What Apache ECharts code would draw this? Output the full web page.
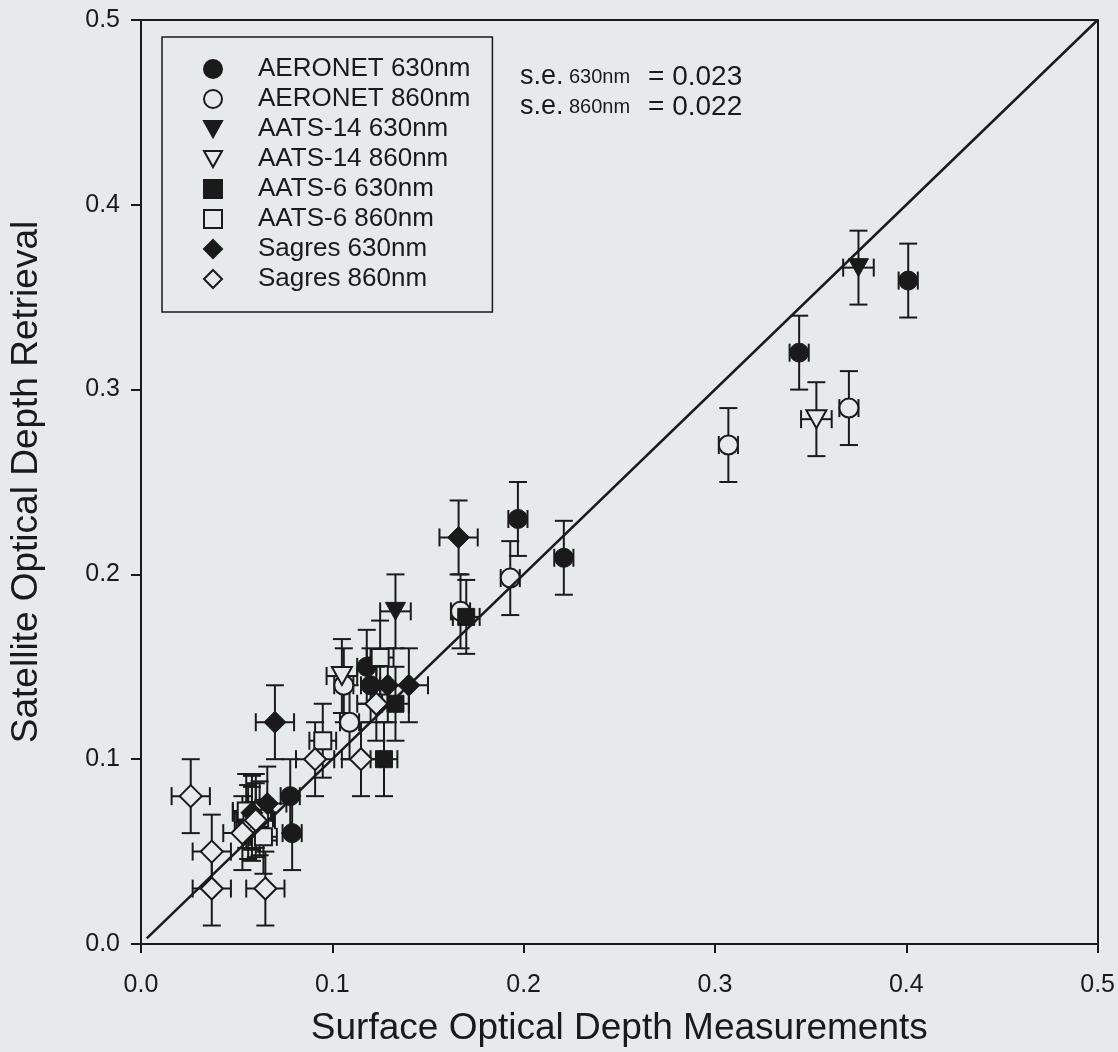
<!DOCTYPE html>
<html><head><meta charset="utf-8">
<script src="https://cdn.jsdelivr.net/npm/echarts@6/dist/echarts.min.js"></script>
<style>html,body{margin:0;padding:0;background:#e6eaeb}#c{width:1118px;height:1052px}</style>
</head><body><div id="c"></div>
<script>
// ---- data ----
const xTicks = [0.0, 0.1, 0.2, 0.3, 0.4, 0.5];
const yTicks = [0.0, 0.1, 0.2, 0.3, 0.4, 0.5];
const lineX = [0.003, 0.5];
const lineY = [0.003, 0.5];

const aeronet630X = [0.401, 0.344, 0.221, 0.197, 0.118, 0.120, 0.078, 0.079];
const aeronet630Y = [0.359, 0.320, 0.209, 0.230, 0.150, 0.140, 0.080, 0.060];
const aeronet860X = [0.370, 0.307, 0.193, 0.167, 0.106, 0.109];
const aeronet860Y = [0.290, 0.270, 0.198, 0.180, 0.140, 0.120];
const aats14_630X = [0.375, 0.133];
const aats14_630Y = [0.366, 0.180];
const aats14_860X = [0.353, 0.105, 0.060];
const aats14_860Y = [0.284, 0.145, 0.072];
const aats6_630X = [0.170, 0.133, 0.127, 0.056];
const aats6_630Y = [0.177, 0.130, 0.100, 0.066];
const aats6_860X = [0.095, 0.125, 0.055, 0.058, 0.062, 0.064];
const aats6_860Y = [0.110, 0.155, 0.072, 0.065, 0.068, 0.058];
const sagres630X = [0.166, 0.070, 0.129, 0.140, 0.066, 0.058];
const sagres630Y = [0.220, 0.120, 0.140, 0.140, 0.076, 0.071];
const sagres860X = [0.026, 0.037, 0.037, 0.065, 0.053, 0.060, 0.091, 0.115, 0.123];
const sagres860Y = [0.080, 0.050, 0.030, 0.030, 0.060, 0.067, 0.100, 0.100, 0.130];

// error half-widths
const errY = 0.02;
const errXAeronet = 0.005;
const errXAats14 = 0.008;
const errXAats6 = 0.007;
const errXSagres = 0.010;

// ---- styling ----
const INK = '#1a1a1a';
const BG = '#e6eaeb';
const FONT = '"Liberation Sans", Arial, Helvetica, sans-serif';
const DOWN_TRI = 'path://M0,0 L20,0 L10,18 Z';

function errSeries(xs, ys, ex, ey) {
  return {
    type: 'custom', silent: true, z: 2,
    data: xs.map((x, i) => [x, ys[i], ex, ey]),
    encode: { x: 0, y: 1 },
    renderItem: function (params, api) {
      const x = api.value(0), y = api.value(1), dx = api.value(2), dy = api.value(3);
      const t = api.coord([x, y + dy]), b = api.coord([x, y - dy]);
      const l = api.coord([x - dx, y]), r = api.coord([x + dx, y]);
      const cap = 9;
      const st = { stroke: INK, lineWidth: 2 };
      const seg = (x1, y1, x2, y2) => ({ type: 'line', shape: { x1, y1, x2, y2 }, style: st });
      return {
        type: 'group',
        children: [
          seg(t[0], t[1], b[0], b[1]),
          seg(t[0] - cap, t[1], t[0] + cap, t[1]),
          seg(b[0] - cap, b[1], b[0] + cap, b[1]),
          seg(l[0], l[1], r[0], r[1]),
          seg(l[0], l[1] - cap, l[0], l[1] + cap),
          seg(r[0], r[1] - cap, r[0], r[1] + cap)
        ]
      };
    }
  };
}

function pts(xs, ys) { return xs.map((x, i) => [x, ys[i]]); }

function scat(name, xs, ys, symbol, size, filled) {
  return {
    name, type: 'scatter', z: 4,
    symbol, symbolSize: size, symbolKeepAspect: true,
    data: pts(xs, ys),
    itemStyle: filled
      ? { color: INK, borderColor: INK, borderWidth: 1, opacity: 1 }
      : { color: BG, borderColor: INK, borderWidth: 2, opacity: 1 },
    emphasis: { disabled: true }
  };
}

const chart = echarts.init(document.getElementById('c'), null, { renderer: 'canvas' });

const option = {
  backgroundColor: BG,
  animation: false,
  textStyle: { fontFamily: FONT, color: INK },
  grid: { left: 139, right: 20, top: 20, bottom: 105, containLabel: false },
  xAxis: [{
    type: 'value', min: 0, max: 0.5, interval: 0.1,
    name: 'Surface Optical Depth Measurements', nameLocation: 'middle', nameGap: 66,
    nameTextStyle: { fontSize: 37, color: INK, fontFamily: FONT },
    axisLine: { show: true, onZero: false, lineStyle: { color: INK, width: 2 } },
    axisTick: { show: true, inside: false, length: 9, lineStyle: { color: INK, width: 2 } },
    axisLabel: { fontSize: 25, color: INK, margin: 29, fontFamily: FONT,
      formatter: v => xTicks.find(t => Math.abs(t - v) < 1e-9).toFixed(1) },
    splitLine: { show: false }
  }, {
    type: 'value', min: 0, max: 0.5, position: 'top',
    axisLine: { show: true, onZero: false, lineStyle: { color: INK, width: 2 } },
    axisTick: { show: false }, axisLabel: { show: false }, splitLine: { show: false }
  }],
  yAxis: [{
    type: 'value', min: 0, max: 0.5, interval: 0.1,
    name: 'Satellite Optical Depth Retrieval', nameLocation: 'middle', nameGap: 96,
    nameTextStyle: { fontSize: 37, color: INK, fontFamily: FONT },
    axisLine: { show: true, onZero: false, lineStyle: { color: INK, width: 2 } },
    axisTick: { show: true, inside: false, length: 10, lineStyle: { color: INK, width: 2 } },
    axisLabel: { fontSize: 25, color: INK, margin: 21, fontFamily: FONT,
      formatter: v => yTicks.find(t => Math.abs(t - v) < 1e-9).toFixed(1) },
    splitLine: { show: false }
  }, {
    type: 'value', min: 0, max: 0.5, position: 'right',
    axisLine: { show: true, onZero: false, lineStyle: { color: INK, width: 2 } },
    axisTick: { show: false }, axisLabel: { show: false }, splitLine: { show: false }
  }],
  legend: {
    show: true, orient: 'vertical', left: 162, top: 37,
    data: ['AERONET 630nm', 'AERONET 860nm', 'AATS-14 630nm', 'AATS-14 860nm',
           'AATS-6 630nm', 'AATS-6 860nm', 'Sagres 630nm', 'Sagres 860nm'],
    itemWidth: 18, itemHeight: 18, itemGap: 4,
    symbolKeepAspect: true,
    padding: [19, 22, 20, 41],
    borderColor: INK, borderWidth: 1.5, backgroundColor: BG,
    selectedMode: false,
    textStyle: { fontSize: 26, color: INK, fontFamily: FONT, padding: [0, 0, 0, 31] }
  },
  graphic: [
    { type: 'text', left: 520, top: 63, style: { text: 's.e.', font: '27px ' + FONT, fill: INK } },
    { type: 'text', left: 569, top: 67, style: { text: '630nm', font: '20px ' + FONT, fill: INK } },
    { type: 'text', left: 648, top: 63, style: { text: '= 0.023', font: '28px ' + FONT, fill: INK } },
    { type: 'text', left: 520, top: 93, style: { text: 's.e.', font: '27px ' + FONT, fill: INK } },
    { type: 'text', left: 569, top: 97, style: { text: '860nm', font: '20px ' + FONT, fill: INK } },
    { type: 'text', left: 648, top: 93, style: { text: '= 0.022', font: '28px ' + FONT, fill: INK } }
  ],
  series: [
    errSeries(aeronet630X, aeronet630Y, errXAeronet, errY),
    errSeries(aeronet860X, aeronet860Y, errXAeronet, errY),
    errSeries(aats14_630X, aats14_630Y, errXAats14, errY),
    errSeries(aats14_860X, aats14_860Y, errXAats14, errY),
    errSeries(aats6_630X, aats6_630Y, errXAats6, errY),
    errSeries(aats6_860X, aats6_860Y, errXAats6, errY),
    errSeries(sagres630X, sagres630Y, errXSagres, errY),
    errSeries(sagres860X, sagres860Y, errXSagres, errY),
    scat('AERONET 630nm', aeronet630X, aeronet630Y, 'circle', 19, true),
    scat('AERONET 860nm', aeronet860X, aeronet860Y, 'circle', 19, false),
    scat('AATS-14 630nm', aats14_630X, aats14_630Y, DOWN_TRI, 20, true),
    scat('AATS-14 860nm', aats14_860X, aats14_860Y, DOWN_TRI, 20, false),
    scat('AATS-6 630nm', aats6_630X, aats6_630Y, 'rect', 17, true),
    scat('AATS-6 860nm', aats6_860X, aats6_860Y, 'rect', 17, false),
    scat('Sagres 630nm', sagres630X, sagres630Y, 'diamond', 22, true),
    scat('Sagres 860nm', sagres860X, sagres860Y, 'diamond', 22, false),
    {
      type: 'line', z: 5, silent: true, symbol: 'none',
      data: pts(lineX, lineY),
      lineStyle: { color: INK, width: 2.5 }
    }
  ]
};
chart.setOption(option);
</script>
</body></html>
